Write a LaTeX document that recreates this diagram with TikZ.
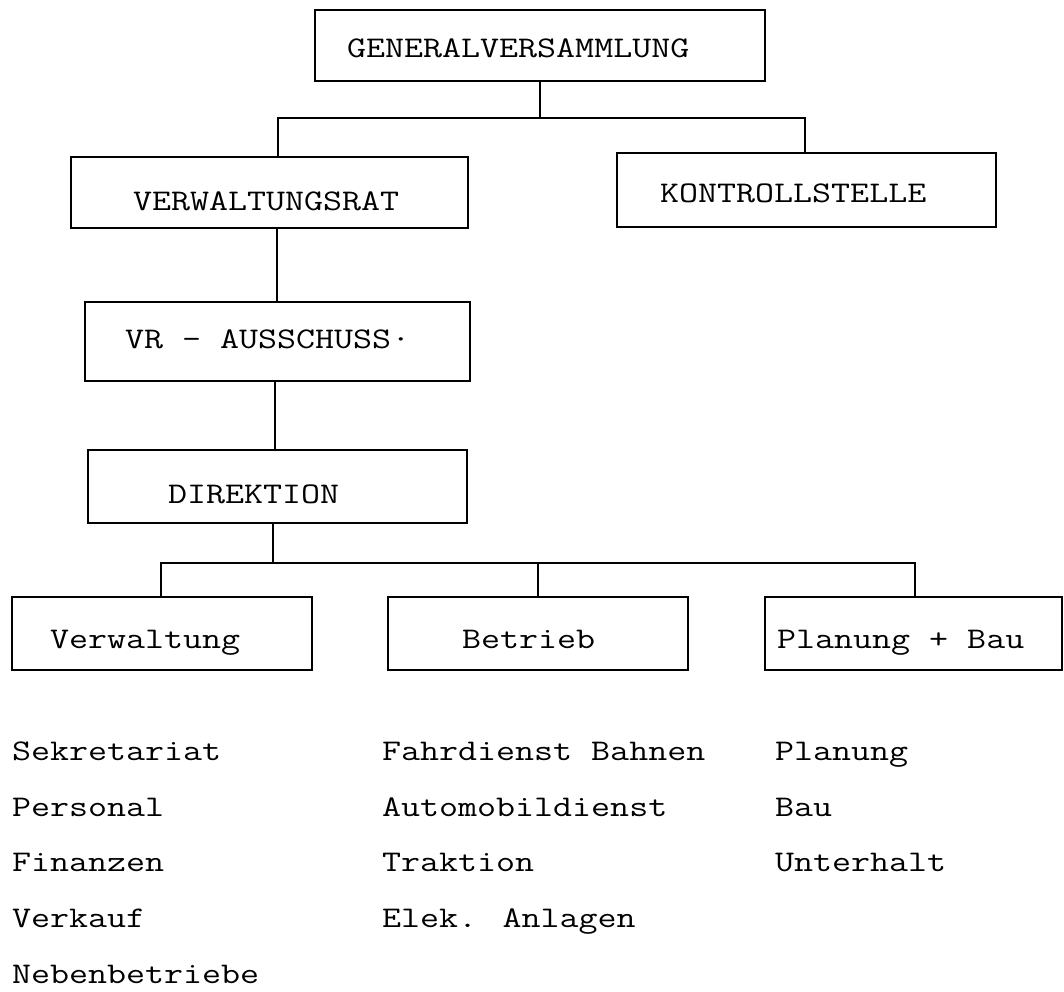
\documentclass[tikz,border=0pt]{standalone}
\usepackage{graphicx}
\newcommand{\tw}[1]{\scalebox{1.23}[1]{#1}}
\tikzset{
  box/.style={draw=black, line width=2.6pt, inner sep=0pt, rectangle},
  conn/.style={draw=black, line width=1.7pt},
  lbl/.style={anchor=base west, inner sep=0pt, font=\ttfamily\fontsize{30}{36}\selectfont},
}
\begin{document}
\begin{tikzpicture}[x=1pt,y=-1pt]
\useasboundingbox (0,0) rectangle (1064,991);
% boxes
\node[box, minimum width=450pt, minimum height=71pt] (gv) at (540,45.5) {};
\node[box, minimum width=397pt, minimum height=71pt] (vr) at (269.5,192.5) {};
\node[box, minimum width=379pt, minimum height=74pt] (ks) at (806.5,190) {};
\node[box, minimum width=385pt, minimum height=79pt] (aus) at (277.5,341.5) {};
\node[box, minimum width=379pt, minimum height=73pt] (dir) at (277.5,486.5) {};
\node[box, minimum width=300pt, minimum height=73pt] (verw) at (162,633.5) {};
\node[box, minimum width=300pt, minimum height=73pt] (betr) at (538,633.5) {};
\node[box, minimum width=297pt, minimum height=73pt] (plan) at (913.5,633.5) {};
% box texts
\node[lbl] (gvt) at (347,57) {\tw{GENERALVERSAMMLUNG}};
\node[lbl] (vrt) at (133,210) {\tw{VERWALTUNGSRAT}};
\node[lbl] (kst) at (660,202) {\tw{KONTROLLSTELLE}};
\node[lbl] (aust) at (125,348) {\tw{VR - AUSSCHUSS·}};
\node[lbl] (dirt) at (168,503) {\tw{DIREKTION}};
\node[lbl] (verwt) at (50,648) {\tw{Verwaltung}};
\node[lbl] (betrt) at (462,648) {\tw{Betrieb}};
\node[lbl] (plant) at (777,648) {\tw{Planung + Bau}};
% junctions
\coordinate (j1) at (540,118);
\coordinate (j1l) at (278,118);
\coordinate (j1r) at (805,118);
\coordinate (j2) at (273,563);
\coordinate (j2l) at (161,563);
\coordinate (j2m) at (538,563);
\coordinate (j2r) at (915,563);
% connectors
\draw[conn] (gv.south -| j1) -- (j1);
\draw[conn] (vr.north -| j1l) -- (j1l) -- (j1r) -- (ks.north -| j1r);
\draw[conn] (vr.south -| 277,0) -- (aus.north -| 277,0);
\draw[conn] (aus.south -| 275,0) -- (dir.north -| 275,0);
\draw[conn] (dir.south -| j2) -- (j2);
\draw[conn] (verw.north -| j2l) -- (j2l) -- (j2r) -- (plan.north -| j2r);
\draw[conn] (j2m) -- (betr.north -| j2m);
% lists
\node[lbl] (l11) at (12,760) {\tw{Sekretariat}};
\node[lbl] (l12) at (12,816) {\tw{Personal}};
\node[lbl] (l13) at (12,871) {\tw{Finanzen}};
\node[lbl] (l14) at (12,927) {\tw{Verkauf}};
\node[lbl] (l15) at (12,983) {\tw{Nebenbetriebe}};
\node[lbl] (l21) at (382,760) {\tw{Fahrdienst Bahnen}};
\node[lbl] (l22) at (382,816) {\tw{Automobildienst}};
\node[lbl] (l23) at (382,871) {\tw{Traktion}};
\node[lbl] (l24) at (382,927) {\tw{Elek. Anlagen}};
\node[lbl] (l31) at (775,760) {\tw{Planung}};
\node[lbl] (l32) at (775,816) {\tw{Bau}};
\node[lbl] (l33) at (775,871) {\tw{Unterhalt}};
\end{tikzpicture}
\end{document}
